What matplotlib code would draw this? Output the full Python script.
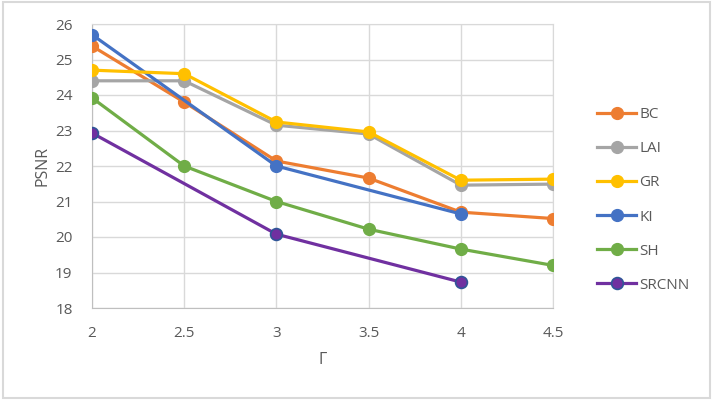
import matplotlib.pyplot as plt
from matplotlib.patches import FancyBboxPatch

# Data
gamma = [2, 2.5, 3, 3.5, 4, 4.5]
gamma_ki = [2, 3, 4]

bc = [25.38, 23.8, 22.14, 21.66, 20.7, 20.52]
lai = [24.4, 24.4, 23.15, 22.9, 21.46, 21.49]
gr = [24.7, 24.6, 23.24, 22.96, 21.6, 21.63]
ki = [25.7, 22.0, 20.65]
sh = [23.92, 22.0, 21.0, 20.22, 19.66, 19.2]
srcnn = [22.93, 20.08, 18.73]

plt.rcParams['font.family'] = ['Open Sans', 'DejaVu Sans']

fig = plt.figure(figsize=(7.13, 4.0), dpi=100)
ax = fig.add_axes([92 / 713, 1 - 308 / 400, (553 - 92) / 713, (308 - 24) / 400])

# outer frame like an Excel chart area
fig.patches.append(FancyBboxPatch((0.004, 0.006), 0.992, 0.988, boxstyle='square,pad=0',
                                  transform=fig.transFigure, fill=False,
                                  edgecolor='#D9D9D9', linewidth=1.5))

lw = 2.3
ms = 8.5
ax.plot(gamma, bc, '-o', color='#ED7D31', lw=lw, ms=ms, label='BC', zorder=3)
ax.plot(gamma, lai, '-o', color='#A5A5A5', lw=lw, ms=ms, label='LAI', zorder=3)
ax.plot(gamma, gr, '-o', color='#FFC000', lw=lw, ms=ms, label='GR', zorder=4)
ax.plot(gamma_ki, ki, '-o', color='#4472C4', lw=lw, ms=ms, label='KI', zorder=3)
ax.plot(gamma, sh, '-o', color='#70AD47', lw=lw, ms=ms, label='SH', zorder=3)
ax.plot(gamma_ki, srcnn, '-o', color='#7030A0', mfc='#7030A0', mec='#2F5597',
        mew=1.2, lw=lw, ms=ms, label='SRCNN', zorder=3)

ax.set_xlim(2, 4.5)
ax.set_ylim(18, 26)
ax.set_xticks([2, 2.5, 3, 3.5, 4, 4.5])
ax.set_xticklabels(['2', '2.5', '3', '3.5', '4', '4.5'])
ax.set_yticks(range(18, 27))

ax.grid(True, color='#D9D9D9', linewidth=1)
ax.set_axisbelow(True)
for s in ax.spines.values():
    s.set_color('#D9D9D9')
ax.spines['bottom'].set_color('#BFBFBF')
ax.spines['left'].set_color('#BFBFBF')
ax.tick_params(length=0, colors='#595959', labelsize=11)
ax.tick_params(axis='x', pad=13)
ax.tick_params(axis='y', pad=14)

ax.set_xlabel('Γ', color='#595959', fontsize=11.5, labelpad=8)
ax.set_ylabel('PSNR', color='#595959', fontsize=11.5, labelpad=3)

fig.legend(loc='center left', bbox_to_anchor=(583 / 713, 1 - 200 / 400), frameon=False,
           fontsize=11, labelcolor='#595959', handlelength=2.6,
           labelspacing=1.25, handletextpad=0.2)

fig.savefig('out.png', dpi=100)
